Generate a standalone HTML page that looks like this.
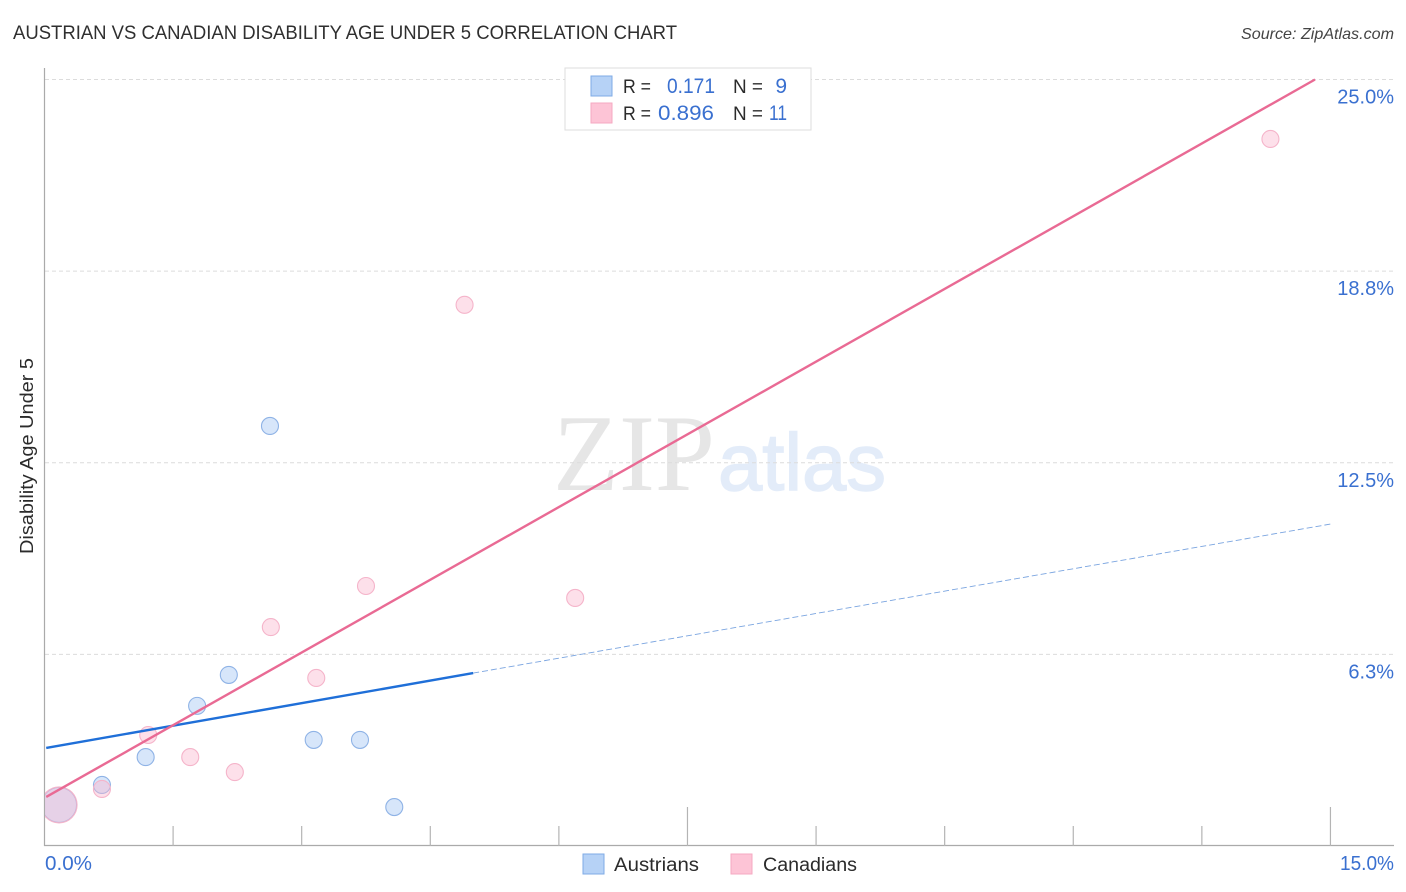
<!DOCTYPE html>
<html lang="en">
<head>
<meta charset="utf-8">
<title>Austrian vs Canadian Disability Age Under 5 Correlation Chart</title>
<style>
html,body{margin:0;padding:0;background:#fff;}
svg{display:block;font-family:"Liberation Sans",sans-serif;}
</style>
</head>
<body>
<svg id="chart" width="1406" height="892" viewBox="0 0 1406 892" xmlns="http://www.w3.org/2000/svg">
  <defs>
    <clipPath id="plot-clip"><rect x="45" y="60" width="1350" height="786"/></clipPath>
  </defs>
  <rect width="1406" height="892" fill="#ffffff"/>
  <text x="13" y="39" font-size="19" fill="#2f2f2f" textLength="664" lengthAdjust="spacingAndGlyphs">AUSTRIAN VS CANADIAN DISABILITY AGE UNDER 5 CORRELATION CHART</text>
  <text x="1241" y="39" font-size="16" font-style="italic" fill="#444444" textLength="153" lengthAdjust="spacingAndGlyphs">Source: ZipAtlas.com</text>
  <g>
    <text x="553" y="490" font-family="'Liberation Serif',serif" font-size="109" fill="#e6e6e6" textLength="162" lengthAdjust="spacingAndGlyphs">ZIP</text>
    <text x="718" y="490" font-size="81" fill="#e3ecf9" stroke="#e3ecf9" stroke-width="1.5" textLength="168" lengthAdjust="spacingAndGlyphs">atlas</text>
  </g>
  <g id="grid"></g>
  <g id="axes"></g>
  <g id="austrian-points" clip-path="url(#plot-clip)"></g>
  <g id="canadian-points" clip-path="url(#plot-clip)"></g>
  <g id="trends"></g>
  <g id="ylabels"></g>
  <text transform="translate(33,456) rotate(-90)" font-size="18" fill="#2b2b2b" text-anchor="middle" textLength="196" lengthAdjust="spacingAndGlyphs">Disability Age Under 5</text>
  <text x="45" y="870" font-size="20" fill="#3a70d0" textLength="47" lengthAdjust="spacingAndGlyphs">0.0%</text>
  <text x="1340" y="870" font-size="20" fill="#3a70d0" textLength="54" lengthAdjust="spacingAndGlyphs">15.0%</text>

  <g>
    <rect x="565" y="68" width="246" height="62" fill="#ffffff" stroke="#dddddd" stroke-width="1"/>
    <rect x="591" y="76" width="21" height="20" fill="#b6d2f6" stroke="#7fabe6"/>
    <rect x="591" y="103" width="21" height="20" fill="#fdc4d6" stroke="#f5a9c2"/>
    <text x="623" y="93" font-size="19" fill="#2b2b2b" textLength="28" lengthAdjust="spacingAndGlyphs">R =</text>
    <text x="667" y="93" font-size="21" fill="#3a70d0" textLength="48" lengthAdjust="spacingAndGlyphs">0.171</text>
    <text x="733" y="93" font-size="19" fill="#2b2b2b" textLength="30" lengthAdjust="spacingAndGlyphs">N =</text>
    <text x="787" y="93" font-size="21" fill="#3a70d0" text-anchor="end">9</text>
    <text x="623" y="120" font-size="19" fill="#2b2b2b" textLength="28" lengthAdjust="spacingAndGlyphs">R =</text>
    <text x="658" y="120" font-size="21" fill="#3a70d0" textLength="56" lengthAdjust="spacingAndGlyphs">0.896</text>
    <text x="733" y="120" font-size="19" fill="#2b2b2b" textLength="30" lengthAdjust="spacingAndGlyphs">N =</text>
    <text x="769" y="120" font-size="21" fill="#3a70d0" textLength="18" lengthAdjust="spacingAndGlyphs">11</text>
  </g>

  <g>
    <rect x="583" y="854" width="21" height="20" fill="#b6d2f6" stroke="#7fabe6"/>
    <text x="614" y="871" font-size="19" fill="#2b2b2b" textLength="85" lengthAdjust="spacingAndGlyphs">Austrians</text>
    <rect x="731" y="854" width="21" height="20" fill="#fdc4d6" stroke="#f5a9c2"/>
    <text x="763" y="871" font-size="19" fill="#2b2b2b" textLength="94" lengthAdjust="spacingAndGlyphs">Canadians</text>
  </g>
</svg>
<script>
const yTickValues = [25, 18.75, 12.5, 6.25];
const yTickLabels = ['25.0%', '18.8%', '12.5%', '6.3%'];
const xTickValues = [1.5, 3, 4.5, 6, 7.5, 9, 10.5, 12, 13.5, 15];
const xMajorTicks = [7.5, 15];
const austrianX = [0.17, 0.67, 1.18, 1.78, 2.15, 2.63, 3.14, 3.68, 4.08];
const austrianY = [1.34, 1.99, 2.90, 4.57, 5.58, 13.70, 3.46, 3.46, 1.27];
const austrianSize = [18, 9, 9, 9, 9, 9, 9, 9, 9];
const canadianX = [0.17, 0.67, 1.21, 1.70, 2.22, 2.64, 3.17, 3.75, 4.90, 6.19, 14.30];
const canadianY = [1.34, 1.86, 3.62, 2.90, 2.41, 7.14, 5.48, 8.48, 17.65, 8.09, 23.06];
const canadianSize = [18, 9, 9, 9, 9, 9, 9, 9, 9, 9, 9];
const austrianTrendSolidX = [0.02, 5.0];
const austrianTrendSolidY = [3.2, 5.64];
const austrianTrendDashX = [5.0, 15];
const austrianTrendDashY = [5.64, 10.5];
const canadianTrendX = [0.02, 14.82];
const canadianTrendY = [1.6, 25];

const NS = 'http://www.w3.org/2000/svg';
function xScale(v) { return 44.5 + v * 85.73; }
function yScale(v) { return 846 - v * 30.66; }
function make(tag, attrs, parent) {
  const el = document.createElementNS(NS, tag);
  for (const k in attrs) el.setAttribute(k, attrs[k]);
  parent.appendChild(el);
  return el;
}
const gridG = document.getElementById('grid');
const axesG = document.getElementById('axes');
const ylabelG = document.getElementById('ylabels');
const ausG = document.getElementById('austrian-points');
const canG = document.getElementById('canadian-points');
const trendG = document.getElementById('trends');

yTickValues.forEach(function (v, i) {
  const line = make('line', {x1: 45, x2: 1393, y1: yScale(v), y2: yScale(v), stroke: '#dcdcdc', 'stroke-width': 1, 'stroke-dasharray': '4 3'}, gridG);
  
  
  const label = make('text', {x: 1394, y: yScale(v) + 24, 'font-size': 20, fill: '#3a70d0', 'text-anchor': 'end'}, ylabelG);
  label.textContent = yTickLabels[i];
  
  
});

const yAxis = make('line', {x1: 44.5, x2: 44.5, y1: 68, y2: 846, stroke: '#aaaaaa', 'stroke-width': 1.2}, axesG);


const xAxis = make('line', {x1: 44, x2: 1394, y1: 845.5, y2: 845.5, stroke: '#aaaaaa', 'stroke-width': 1.2}, axesG);


xTickValues.forEach(function (v) {
  const top = xMajorTicks.indexOf(v) >= 0 ? 807 : 826;
  const tick = make('line', {x1: xScale(v), x2: xScale(v), y1: top, y2: 846, stroke: '#b4b4b4', 'stroke-width': 1.2}, axesG);
  
  
});

austrianX.forEach(function (v, i) {
  const c = make('circle', {cx: xScale(v), cy: yScale(austrianY[i]), r: austrianSize[i] - 0.5, fill: 'rgba(160,196,242,0.42)', stroke: '#8fb3e6', 'stroke-width': 1.1}, ausG);
  
  
});
canadianX.forEach(function (v, i) {
  const c = make('circle', {cx: xScale(v), cy: yScale(canadianY[i]), r: canadianSize[i] - 0.5 + (i === 0 ? 0.5 : 0), fill: 'rgba(250,180,205,0.42)', stroke: '#f5b4ca', 'stroke-width': 1.1}, canG);
  
  
});

const dash = make('line', {x1: xScale(austrianTrendDashX[0]), y1: yScale(austrianTrendDashY[0]), x2: xScale(austrianTrendDashX[1]), y2: yScale(austrianTrendDashY[1]), stroke: '#7ba5e0', 'stroke-width': 0.9, 'stroke-dasharray': '6 3'}, trendG);


const solid = make('line', {x1: xScale(austrianTrendSolidX[0]), y1: yScale(austrianTrendSolidY[0]), x2: xScale(austrianTrendSolidX[1]), y2: yScale(austrianTrendSolidY[1]), stroke: '#1f6fd8', 'stroke-width': 2.4}, trendG);


const pink = make('line', {x1: xScale(canadianTrendX[0]), y1: yScale(canadianTrendY[0]), x2: xScale(canadianTrendX[1]), y2: yScale(canadianTrendY[1]), stroke: '#e96a94', 'stroke-width': 2.4}, trendG);


</script>
</body>
</html>
